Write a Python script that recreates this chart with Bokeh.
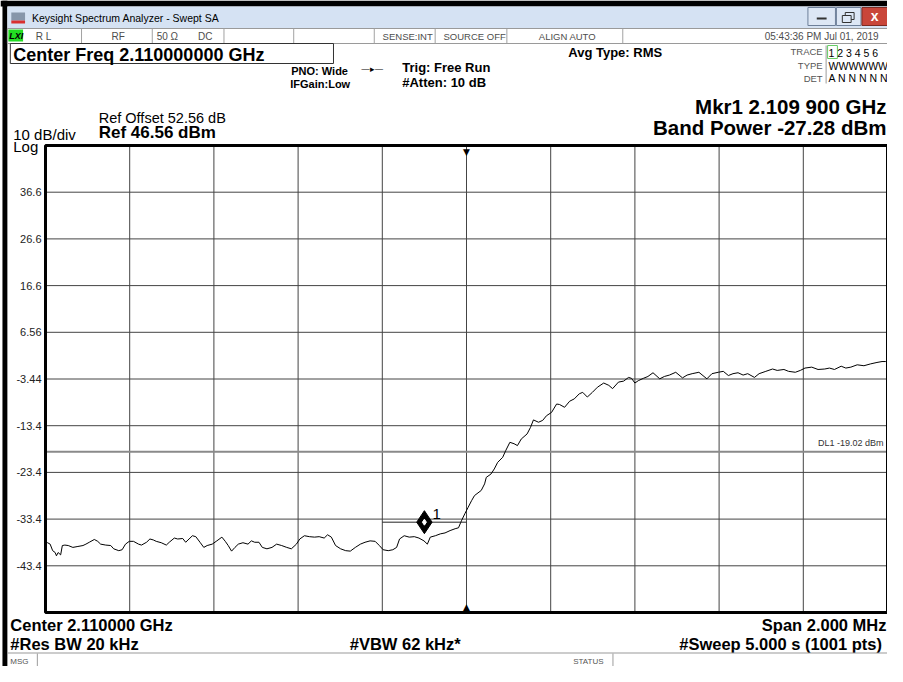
from bokeh.plotting import figure
from bokeh.models import Label, BoxAnnotation, Range1d
from bokeh.core.properties import value
from bokeh.embed import file_html
from bokeh.resources import INLINE

# ---------------- data ----------------
center_mhz = 2110.0
span_mhz = 2.0
ref_level_dbm = 46.56
db_per_div = 10.0
n_div = 10

freq_mhz = [
    2109.000, 2109.005, 2109.011, 2109.017, 2109.023, 2109.026, 2109.030, 2109.036, 2109.040, 2109.046,
    2109.054, 2109.065, 2109.077, 2109.089, 2109.096, 2109.104, 2109.116, 2109.124, 2109.131, 2109.143,
    2109.155, 2109.162, 2109.174, 2109.182, 2109.190, 2109.199, 2109.209, 2109.221, 2109.228, 2109.240,
    2109.248, 2109.256, 2109.263, 2109.275, 2109.287, 2109.294, 2109.306, 2109.314, 2109.326, 2109.333,
    2109.341, 2109.349, 2109.357, 2109.367, 2109.376, 2109.384, 2109.396, 2109.407, 2109.419, 2109.427,
    2109.434, 2109.442, 2109.450, 2109.458, 2109.469, 2109.481, 2109.489, 2109.497, 2109.507, 2109.515,
    2109.526, 2109.538, 2109.549, 2109.561, 2109.573, 2109.584, 2109.596, 2109.604, 2109.615, 2109.627,
    2109.639, 2109.650, 2109.662, 2109.670, 2109.679, 2109.689, 2109.701, 2109.713, 2109.724, 2109.736,
    2109.748, 2109.759, 2109.771, 2109.783, 2109.793, 2109.802, 2109.814, 2109.825, 2109.834, 2109.841,
    2109.852, 2109.864, 2109.876, 2109.887, 2109.899, 2109.907, 2109.914, 2109.926, 2109.938, 2109.949,
    2109.961, 2109.973, 2109.981, 2109.988, 2109.996, 2110.004, 2110.012, 2110.019, 2110.035, 2110.043,
    2110.047, 2110.058, 2110.066, 2110.074, 2110.086, 2110.093, 2110.103, 2110.113, 2110.121, 2110.130,
    2110.144, 2110.152, 2110.159, 2110.171, 2110.181, 2110.190, 2110.202, 2110.214, 2110.221, 2110.233,
    2110.245, 2110.256, 2110.268, 2110.276, 2110.287, 2110.299, 2110.311, 2110.326, 2110.338, 2110.347,
    2110.361, 2110.373, 2110.385, 2110.392, 2110.400, 2110.408, 2110.420, 2110.431, 2110.443, 2110.459,
    2110.470, 2110.482, 2110.497, 2110.513, 2110.524, 2110.536, 2110.552, 2110.571, 2110.583, 2110.598,
    2110.610, 2110.622, 2110.633, 2110.645, 2110.657, 2110.668, 2110.684, 2110.695, 2110.711, 2110.727,
    2110.738, 2110.754, 2110.765, 2110.781, 2110.793, 2110.804, 2110.820, 2110.835, 2110.851, 2110.862,
    2110.874, 2110.890, 2110.901, 2110.913, 2110.928, 2110.944, 2110.960, 2110.975, 2110.987, 2110.995,
    2111.000,
]
level_dbm = [
    -38.3, -38.5, -38.8, -40.2, -40.6, -41.3, -40.6, -41.1, -39.1, -39.0,
    -39.1, -39.5, -39.3, -39.1, -38.8, -38.4, -37.8, -38.2, -38.8, -39.0,
    -39.1, -39.8, -40.2, -40.0, -38.8, -38.2, -38.2, -38.8, -39.0, -38.4,
    -37.7, -37.9, -38.2, -38.5, -39.0, -38.4, -37.5, -37.7, -37.6, -38.4,
    -37.7, -37.0, -37.2, -38.4, -39.5, -39.1, -38.8, -38.1, -37.3, -38.2,
    -39.1, -40.3, -39.5, -38.8, -38.5, -38.8, -38.1, -38.4, -38.4, -39.5,
    -39.8, -39.5, -38.8, -39.1, -39.5, -39.8, -38.8, -37.7, -37.0, -37.2,
    -37.3, -37.2, -37.5, -36.8, -37.3, -39.1, -39.8, -40.2, -40.3, -39.5,
    -38.8, -38.4, -38.1, -38.2, -39.1, -40.0, -40.2, -40.0, -39.5, -37.7,
    -37.0, -37.3, -37.2, -37.5, -38.1, -38.8, -37.3, -37.0, -36.6, -36.4,
    -35.9, -35.5, -35.3, -33.8, -32.3, -30.9, -29.5, -28.4, -27.3, -25.9,
    -24.5, -23.8, -22.7, -21.3, -20.2, -18.8, -17.0, -17.3, -17.7, -16.3,
    -15.2, -13.8, -12.2, -12.7, -12.3, -11.3, -10.6, -8.8, -8.9, -9.5,
    -8.2, -7.7, -6.6, -6.3, -7.3, -6.3, -5.2, -4.3, -4.8, -5.5,
    -4.1, -3.9, -3.1, -3.3, -4.3, -3.8, -3.3, -2.9, -2.1, -3.4,
    -2.9, -2.6, -2.0, -3.2, -2.6, -2.3, -2.0, -3.4, -2.3, -2.0,
    -1.8, -2.7, -2.3, -2.1, -2.6, -2.3, -3.1, -2.3, -1.8, -1.3,
    -1.6, -1.4, -1.8, -2.0, -1.6, -1.1, -0.9, -1.4, -1.3, -1.1,
    -1.4, -0.7, -1.1, -0.9, -0.4, -0.6, -0.2, 0.1, 0.3, 0.3,
    0.3,
]

y_ticks = [36.56, 26.56, 16.56, 6.56, -3.44, -13.44, -23.44, -33.44, -43.44]
y_tick_labels = ["36.6", "26.6", "16.6", "6.56", "-3.44", "-13.4", "-23.4", "-33.4", "-43.4"]
x_grid_mhz = [2109.2, 2109.4, 2109.6, 2109.8, 2110.0, 2110.2, 2110.4, 2110.6, 2110.8]

marker_mhz = [2109.9]
marker_dbm = [-34.1]
band_lo_mhz = [2109.8]
band_hi_mhz = [2110.0]
band_bar_dbm = [-34.1]
display_line_dbm = -19.02

# ---------------- layout ----------------
W, H = 887, 666
SX, SY = W / 903.0, 1.0
FL, FT, FH = 45, 145, 467          # plot area inside the canvas (px)
FW = W - FL
FB = FT + FH

x_lo = center_mhz - span_mhz / 2
x_hi = center_mhz + span_mhz / 2
y_bottom = ref_level_dbm - db_per_div * n_div
ppx = (x_hi - x_lo) / FW
ppy = (ref_level_dbm - y_bottom) / FH

p = figure(width=W, height=H, title=None,
           x_range=Range1d(x_lo - FL * ppx, x_hi + (W - FL - FW) * ppx),
           y_range=Range1d(y_bottom - (H - FB) * ppy, ref_level_dbm + FT * ppy),
           output_backend="svg", toolbar_location=None,
           x_axis_location=None, y_axis_location=None,
           min_border=0)
p.background_fill_color = "white"
p.border_fill_color = "white"
p.outline_line_color = None
p.xgrid.visible = False
p.ygrid.visible = False

grid_color = "#444444"
# graticule
p.segment(x0=x_grid_mhz, y0=[y_bottom] * len(x_grid_mhz), x1=x_grid_mhz,
          y1=[ref_level_dbm] * len(x_grid_mhz), line_color=grid_color, line_width=1)
p.segment(x0=[x_lo] * len(y_ticks), y0=y_ticks, x1=[x_hi] * len(y_ticks), y1=y_ticks,
          line_color=grid_color, line_width=1)
p.text(x=[x_lo] * len(y_ticks), y=y_ticks, text=y_tick_labels, x_offset=-4,
       text_align="right", text_baseline="middle", text_font=value("Liberation Sans"),
       text_font_size="11px", text_color="#222222")

# display line
p.segment(x0=[x_lo], y0=[display_line_dbm], x1=[x_hi], y1=[display_line_dbm],
          line_color="#8a8a8a", line_width=2)
p.add_layout(Label(x=x_hi, y=display_line_dbm, x_offset=-4, y_offset=4,
                   text="DL1 -19.02 dBm", text_font="Liberation Sans", text_font_size="9px",
                   text_align="right", text_baseline="bottom", text_color="#333333"))

# trace
p.line(freq_mhz, level_dbm, line_color="black", line_width=1)

# band power bar and marker
p.segment(x0=band_lo_mhz, y0=band_bar_dbm, x1=band_hi_mhz, y1=band_bar_dbm,
          line_color="#222222", line_width=1)
p.scatter(marker_mhz, marker_dbm, marker="diamond", size=23, fill_color="black", line_color="black")
p.scatter(marker_mhz, marker_dbm, marker="diamond", size=6, fill_color="white", line_color="white")
p.text(x=marker_mhz, y=marker_dbm, text=["1"], x_offset=8, y_offset=-3,
       text_font=value("Liberation Sans"), text_font_size="15px",
       text_baseline="bottom", text_color="black")

# plot-area border
p.add_layout(BoxAnnotation(left=x_lo, right=x_hi, bottom=y_bottom, top=ref_level_dbm,
                           fill_alpha=0.0, line_color="black", line_alpha=1.0, line_width=3))

# center-frequency indicators at top and bottom edge
p.text(x=[center_mhz], y=[ref_level_dbm], text=["\u25bc"], y_offset=1,
       text_align="center", text_baseline="top", text_font=value("DejaVu Sans"),
       text_font_size="9px", text_color="black")
p.text(x=[center_mhz], y=[y_bottom], text=["\u25b2"], y_offset=-1,
       text_align="center", text_baseline="bottom", text_font=value("DejaVu Sans"),
       text_font_size="9px", text_color="black")


def fx(X):
    return X * SX


def fy(Y):
    return H - Y * SY


def box(X0, Y0, X1, Y1, fill, line=None, lw=1):
    p.add_layout(BoxAnnotation(left=fx(X0), right=fx(X1), top=fy(Y0), bottom=fy(Y1),
                               left_units="screen", right_units="screen",
                               top_units="screen", bottom_units="screen",
                               fill_color=fill if fill else "white",
                               fill_alpha=1.0 if fill else 0.0,
                               line_color=line, line_alpha=1.0, line_width=lw))


def txt(s, X, Y, size, style="normal", align="left", color="black", font="Liberation Sans"):
    p.add_layout(Label(x=fx(X), y=fy(Y), x_units="screen", y_units="screen", text=s,
                       text_font=font, text_font_size="%.1fpx" % size,
                       text_font_style=style, text_align=align, text_baseline="top",
                       text_color=color))


# window chrome
box(0, 0, 903, 6, "black")
box(2, 0, 7, 666, "black")
box(7, 6, 903, 28, "#d5e2f3")
box(11, 12, 25, 20, "#8796aa")
box(11, 20, 25, 23, "#d83030")
box(822, 7, 850, 25, "#dde7f5", "#6d7f99")
box(831, 17, 841, 19, "#333333")
box(851, 7, 876, 25, "#dde7f5", "#6d7f99")
box(860, 12, 869, 19, None, "#333333")
box(857, 15, 866, 22, "#dde7f5", "#333333")
box(877, 7, 903, 25, "#c9463a", "#7d2a22")
txt("x", 890, 7, 14, "bold", "center", "white")
txt("Keysight Spectrum Analyzer - Swept SA", 32, 11, 10.5)

# status row
box(7, 28, 903, 43, "white", "#9a9a9a")
box(8, 29, 23, 41, "#22dd22")
txt("LXI", 9, 30, 9, "bold italic")
for xs in [82, 154, 227, 298, 380, 442, 515, 633]:
    box(xs, 28, xs + 1, 43, "#a0a0a0")
status_color = "#4d4d4d"
txt("R L", 36, 30, 10, color=status_color)
txt("RF", 113, 30, 10, color=status_color)
txt("50 \u03a9", 159, 30, 10, color=status_color)
txt("DC", 201, 30, 10, color=status_color)
txt("SENSE:INT", 389, 30, 9.5, color=status_color)
txt("SOURCE OFF", 451, 30, 9.5, color=status_color)
txt("ALIGN AUTO", 548, 30, 9.5, color=status_color)
txt("05:43:36 PM Jul 01, 2019", 894, 30, 10, align="right", color=status_color)

# header
box(10, 43, 339, 63, "white", "#333333")
txt("Center Freq 2.110000000 GHz", 13, 44, 18, "bold")
txt("PNO: Wide", 296, 64, 11, "bold")
txt("IFGain:Low", 295, 77, 11, "bold")
txt("\u2014\u25b8\u2014", 367, 63, 9, font="DejaVu Sans")
txt("Trig: Free Run", 409, 59, 13, "bold")
txt("#Atten: 10 dB", 409, 74, 13, "bold")
txt("Avg Type: RMS", 578, 44, 13, "bold")
txt("TRACE", 837, 45, 9.5, align="right", color="#555555")
txt("TYPE", 837, 59, 9.5, align="right", color="#555555")
txt("DET", 837, 72, 9.5, align="right", color="#555555")
box(840, 45, 841, 83, "#9a9a9a")
box(842, 45, 852, 58, None, "#66cc66")
txt("1 2 3 4 5 6", 843, 46, 10.5)
txt("WWWWWW", 843, 59, 10.5)
txt("A N N N N N", 843, 71, 10.5)
txt("Mkr1 2.109 900 GHz", 902, 94, 20.5, "bold", "right")
txt("Band Power -27.28 dBm", 902, 115, 20.5, "bold", "right")
txt("Ref Offset 52.56 dB", 100, 109, 14.5)
txt("Ref 46.56 dBm", 100, 122, 17, "bold")
txt("10 dB/div", 13, 125, 15)
txt("Log", 13, 137, 15)

# footer
txt("Center 2.110000 GHz", 10, 615, 16.5, "bold")
txt("Span 2.000 MHz", 902, 615, 16.5, "bold", "right")
txt("#Res BW 20 kHz", 10, 634, 16.5, "bold")
txt("#VBW 62 kHz*", 412, 634, 16.5, "bold", "center")
txt("#Sweep  5.000 s (1001 pts)", 902, 634, 16.5, "bold", "right")

# message bar
box(7, 652, 903, 653, "#9a9a9a")
box(37, 653, 38, 666, "#9a9a9a")
box(623, 653, 624, 666, "#9a9a9a")
txt("MSG", 10, 656, 8, color="#555555")
txt("STATUS", 583, 656, 8, color="#555555")

open("out.html", "w").write(file_html(p, INLINE))
